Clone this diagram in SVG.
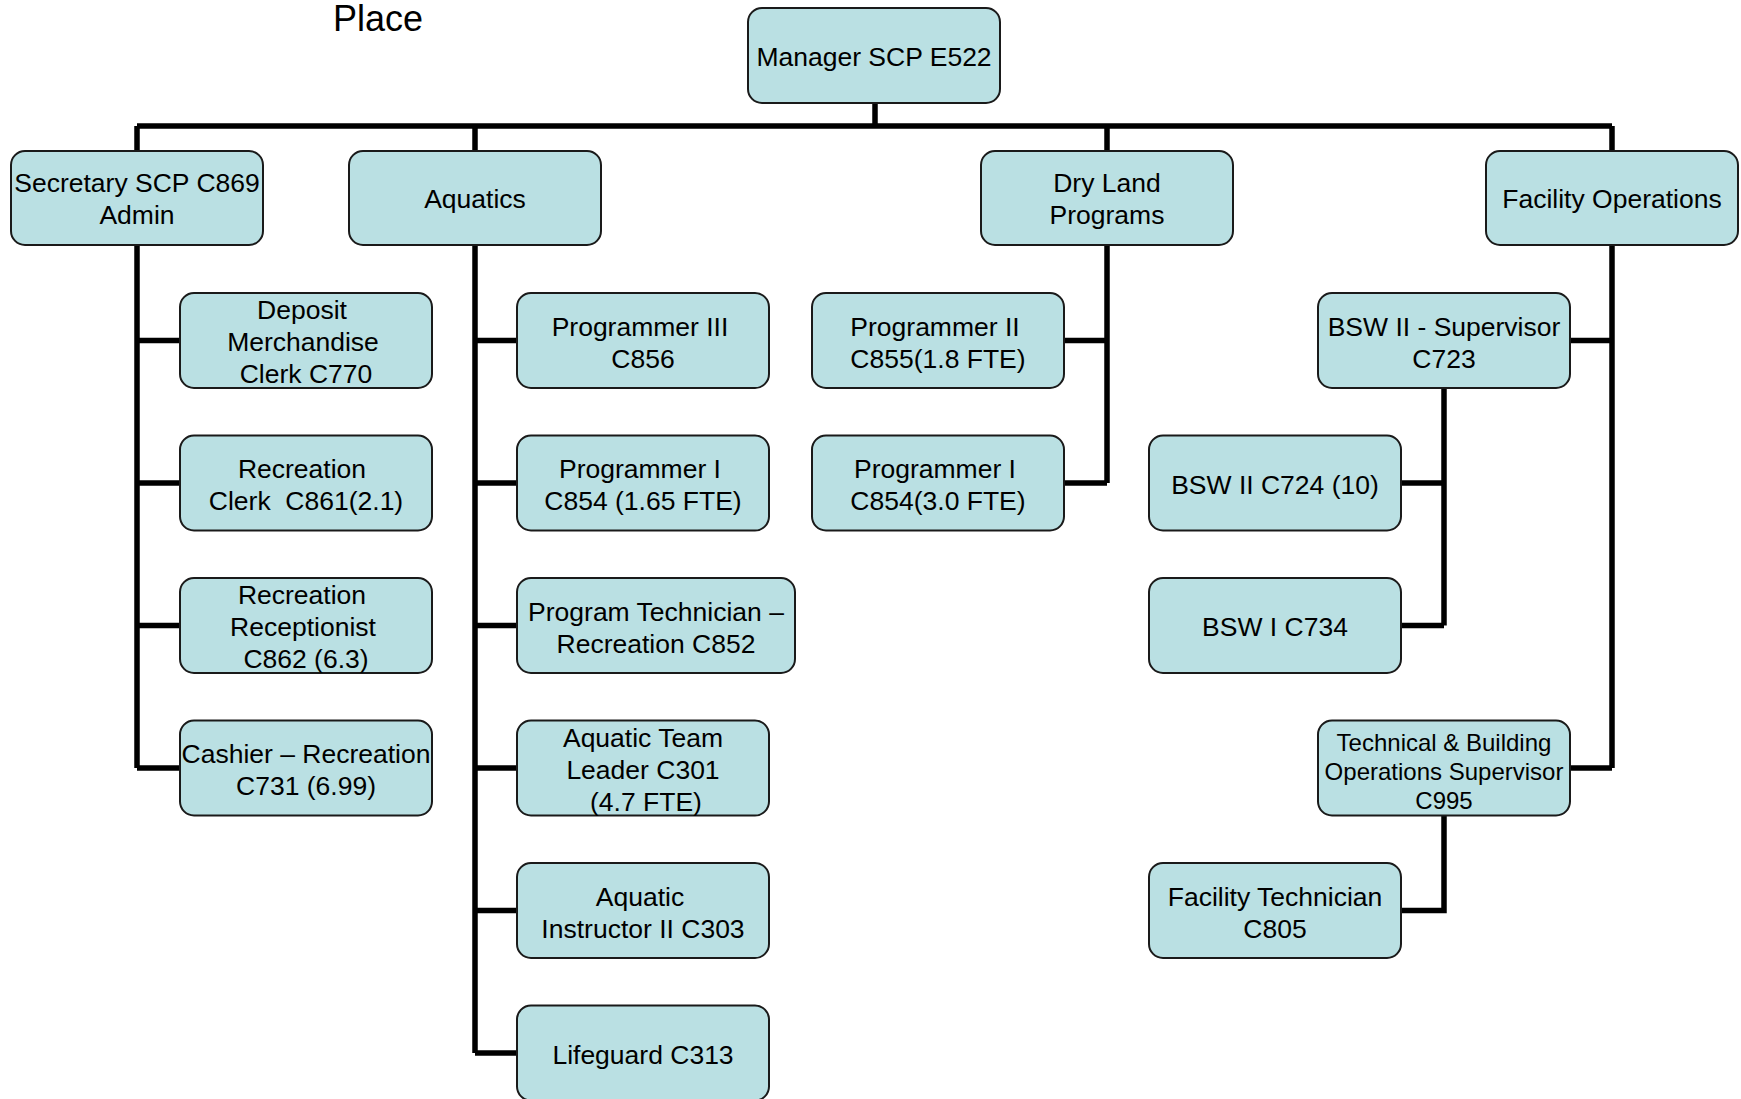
<svg xmlns="http://www.w3.org/2000/svg" width="1741" height="1099" viewBox="0 0 1741 1099">
<style>
.box{fill:#BAE0E3;stroke:#1a1a1a;stroke-width:2}
text{font-family:"Liberation Sans",Arial,sans-serif;font-size:26.5px;fill:#000;text-anchor:middle;white-space:pre}
.sm{font-size:24px}
.title{font-size:36px;text-anchor:start}
.conn{fill:none;stroke:#000;stroke-width:5.5;stroke-linecap:butt;stroke-linejoin:miter}
</style>
<rect width="1741" height="1099" fill="#fff"/>
<g transform="translate(0,1)">
<text class="title" x="333" y="30">Place</text>
<g id="connectors">
<path class="conn" d="M875 102V125M137 125H1612M137 125V150M475 125V150M1107 125V150M1612 125V150"/>
<path class="conn" d="M137 244V767M137 339.5H180M137 482H180M137 624.5H180M137 767H180"/>
<path class="conn" d="M475 244V1052M475 339.5H517M475 482H517M475 624.5H517M475 767H517M475 909.5H517M475 1052H517"/>
<path class="conn" d="M1107 244V482M1064 339.5H1107M1064 482H1107"/>
<path class="conn" d="M1612 244V767M1570 339.5H1612M1570 767H1612"/>
<path class="conn" d="M1444 387V624.5M1401 482H1444M1401 624.5H1444"/>
<path class="conn" d="M1444 814.5V909.5H1401"/>
</g>
<g id="manager"><rect class="box" x="748" y="7" width="252" height="95" rx="14"/><text x="874" y="65">Manager SCP E522</text></g>
<g id="secretary"><rect class="box" x="11" y="150" width="252" height="94" rx="14"/><text x="137" y="191">Secretary SCP C869</text><text x="137" y="223">Admin</text></g>
<g id="aquatics"><rect class="box" x="349" y="150" width="252" height="94" rx="14"/><text x="475" y="207">Aquatics</text></g>
<g id="dryland"><rect class="box" x="981" y="150" width="252" height="94" rx="14"/><text x="1107" y="191">Dry Land</text><text x="1107" y="223">Programs</text></g>
<g id="facility"><rect class="box" x="1486" y="150" width="252" height="94" rx="14"/><text x="1612" y="207">Facility Operations</text></g>

<g id="deposit"><rect class="box" x="180" y="292" width="252" height="95" rx="14"/><text x="302" y="318">Deposit</text><text x="303" y="350">Merchandise</text><text x="306" y="382">Clerk C770</text></g>
<g id="recclerk"><rect class="box" x="180" y="434.5" width="252" height="95" rx="14"/><text x="302" y="477">Recreation</text><text x="306" y="509">Clerk  C861(2.1)</text></g>
<g id="recrecept"><rect class="box" x="180" y="577" width="252" height="95" rx="14"/><text x="302" y="603">Recreation</text><text x="303" y="635">Receptionist</text><text x="306" y="667">C862 (6.3)</text></g>
<g id="cashier"><rect class="box" x="180" y="719.5" width="252" height="95" rx="14"/><text x="306" y="762">Cashier – Recreation</text><text x="306" y="794">C731 (6.99)</text></g>

<g id="prog3"><rect class="box" x="517" y="292" width="252" height="95" rx="14"/><text x="640" y="335">Programmer III</text><text x="643" y="367">C856</text></g>
<g id="prog1a"><rect class="box" x="517" y="434.5" width="252" height="95" rx="14"/><text x="640" y="477">Programmer I</text><text x="643" y="509">C854 (1.65 FTE)</text></g>
<g id="progtech"><rect class="box" x="517" y="577" width="278" height="95" rx="14"/><text x="656" y="620">Program Technician –</text><text x="656" y="652">Recreation C852</text></g>
<g id="teamleader"><rect class="box" x="517" y="719.5" width="252" height="95" rx="14"/><text x="643" y="746">Aquatic Team</text><text x="643" y="778">Leader C301</text><text x="646" y="810">(4.7 FTE)</text></g>
<g id="instructor"><rect class="box" x="517" y="862" width="252" height="95" rx="14"/><text x="640" y="905">Aquatic</text><text x="643" y="937">Instructor II C303</text></g>
<g id="lifeguard"><rect class="box" x="517" y="1004.5" width="252" height="95" rx="14"/><text x="643" y="1063">Lifeguard C313</text></g>

<g id="prog2"><rect class="box" x="812" y="292" width="252" height="95" rx="14"/><text x="935" y="335">Programmer II</text><text x="938" y="367">C855(1.8 FTE)</text></g>
<g id="prog1b"><rect class="box" x="812" y="434.5" width="252" height="95" rx="14"/><text x="935" y="477">Programmer I</text><text x="938" y="509">C854(3.0 FTE)</text></g>

<g id="bswsup"><rect class="box" x="1318" y="292" width="252" height="95" rx="14"/><text x="1444" y="335">BSW II - Supervisor</text><text x="1444" y="367">C723</text></g>
<g id="bsw2"><rect class="box" x="1149" y="434.5" width="252" height="95" rx="14"/><text x="1275" y="493">BSW II C724 (10)</text></g>
<g id="bsw1"><rect class="box" x="1149" y="577" width="252" height="95" rx="14"/><text x="1275" y="635">BSW I C734</text></g>
<g id="techsup"><rect class="box" x="1318" y="719.5" width="252" height="95" rx="14"/><text class="sm" x="1444" y="750">Technical &amp; Building</text><text class="sm" x="1444" y="779">Operations Supervisor</text><text class="sm" x="1444" y="808">C995</text></g>
<g id="factech"><rect class="box" x="1149" y="862" width="252" height="95" rx="14"/><text x="1275" y="905">Facility Technician</text><text x="1275" y="937">C805</text></g>
</g>
</svg>
